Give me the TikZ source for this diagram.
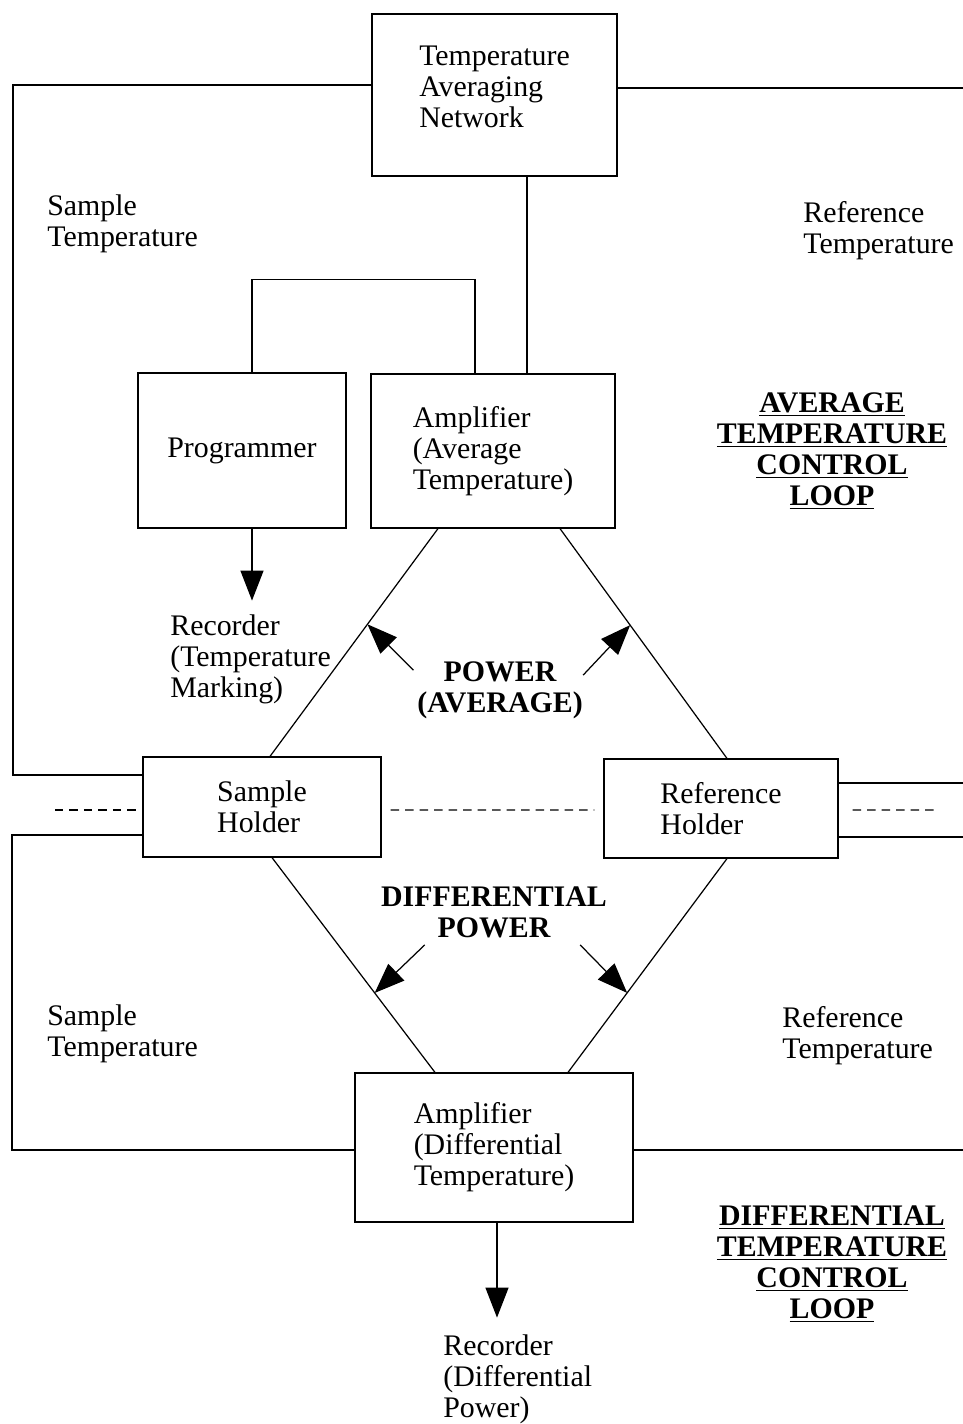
\documentclass[tikz,border=0pt]{standalone}
\usepackage{fontspec}
\setmainfont{Liberation Serif}
\usetikzlibrary{arrows.meta, calc}
\tikzset{
    my-box/.style={
        draw, line width=0.7pt, align=left, inner sep=0pt
    },
    my-wire/.style={
        line width=0.7pt
    },
    my-arrow/.style={
        line width=0.7pt, -{Triangle[length=0.6cm, width=0.46cm]}
    },
    my-dash/.style={
        line width=0.7pt, dash pattern=on 0.17cm off 0.12cm
    },
}

\begin{document}
\begin{tikzpicture}[x=0.02cm, y=-0.02cm, font=\fontsize{17}{17.6}\selectfont]

        \useasboundingbox (0,0) rectangle (963,1424);

        % BOXES
        \node[my-box, minimum width=4.9cm,  minimum height=3.24cm, text depth=9pt] (TAN) at (494.5,95) {Temperature\\Averaging\\Network};
        \node[my-box, minimum width=4.16cm, minimum height=3.1cm]  (PROG)    at (242,450.5)  {Programmer};
        \node[my-box, minimum width=4.88cm, minimum height=3.08cm] (AMPAVG)  at (493,451)    {Amplifier\\(Average\\Temperature)};
        \node[my-box, minimum width=4.76cm, minimum height=2cm]    (SH)      at (262,807)    {Sample\\Holder};
        \node[my-box, minimum width=4.68cm, minimum height=1.98cm] (RH)      at (721,808.5)  {Reference\\Holder};
        \node[my-box, minimum width=5.56cm, minimum height=2.98cm] (AMPDIFF) at (494,1147.5) {Amplifier\\(Differential\\Temperature)};

        % LABELS
        \node[align=left, anchor=west, inner sep=0pt] (STU)  at (47,223.5)  {Sample\\Temperature};
        \node[align=left, anchor=west, inner sep=0pt] (RTU)  at (803,230.5) {Reference\\Temperature};
        \node[align=left, anchor=west, inner sep=0pt] (STL)  at (47,1033.5) {Sample\\Temperature};
        \node[align=left, anchor=west, inner sep=0pt] (RTL)  at (782,1036)  {Reference\\Temperature};
        \node[align=left, anchor=west, inner sep=0pt] (RECT) at (170,659)   {Recorder\\(Temperature\\Marking)};
        \node[align=left, anchor=west, inner sep=0pt] (RECD) at (443,1379)  {Recorder\\(Differential\\Power)};
        \node[align=center, font=\fontsize{17}{17.6}\selectfont\bfseries] (PAVG)  at (500,690.5) {POWER\\(AVERAGE)};
        \node[align=center, font=\fontsize{17}{17.6}\selectfont\bfseries] (PDIFF) at (494,912)   {DIFFERENTIAL\\POWER};
        \node[align=center, font=\fontsize{17}{17.6}\selectfont\bfseries] (LOOPAVG)  at (832,451)
            {\underline{AVERAGE}\\\underline{TEMPERATURE}\\\underline{CONTROL}\\\underline{LOOP}};
        \node[align=center, font=\fontsize{17}{17.6}\selectfont\bfseries] (LOOPDIFF) at (832,1264)
            {\underline{DIFFERENTIAL}\\\underline{TEMPERATURE}\\\underline{CONTROL}\\\underline{LOOP}};

        % CONNECTOR POINTS
        \coordinate (TANOUT) at ($(TAN.south) + (32.5,0)$);
        \coordinate (AL1)    at ($(AMPAVG.south) + (-55,0)$);
        \coordinate (AL2)    at ($(SH.north) + (8,0)$);
        \coordinate (AR1)    at ($(AMPAVG.south) + (67,0)$);
        \coordinate (AR2)    at ($(RH.north) + (6,0)$);
        \coordinate (BL1)    at ($(SH.south) + (10,0)$);
        \coordinate (BL2)    at ($(AMPDIFF.north) + (-59,0)$);
        \coordinate (BR1)    at ($(RH.south) + (6,0)$);
        \coordinate (BR2)    at ($(AMPDIFF.north) + (74,0)$);
        \coordinate (RTOP)   at (963,88);
        \coordinate (RMID1)  at (963,783);
        \coordinate (RMID2)  at (963,837);
        \coordinate (RBOT)   at (963,1150);

        % SAMPLE / REFERENCE TEMPERATURE WIRES
        \draw[my-wire] (TAN.west |- 0,85) -- (13,85) -- (13,775) -- (SH.west |- 0,775);
        \draw[my-wire] (TAN.east |- RTOP) -- (RTOP);
        \draw[my-wire] (RH.east |- RMID1) -- (RMID1);
        \draw[my-wire] (RH.east |- RMID2) -- (RMID2);
        \draw[my-wire] (SH.west |- 0,835) -- (12,835) -- (12,1150) -- (AMPDIFF.west |- RBOT);
        \draw[my-wire] (AMPDIFF.east |- RBOT) -- (RBOT);

        % PROGRAMMER AND AVERAGING CONNECTIONS
        \draw[my-wire] ($(PROG.north) + (10,0)$) -- ++(0,-93) -| ($(AMPAVG.north) + (-18,0)$);
        \draw[my-wire] (TANOUT) -- (TANOUT |- AMPAVG.north);

        % POWER LINES
        \draw[my-wire] (AL1) -- (AL2);
        \draw[my-wire] (AR1) -- (AR2);
        \draw[my-wire] (BL1) -- (BL2);
        \draw[my-wire] (BR1) -- (BR2);

        % POWER ARROWS
        \draw[my-arrow] ($($(AL1)!0.42!(AL2)$) + (46,46)$)    -- ($(AL1)!0.42!(AL2)$);
        \draw[my-arrow] ($($(AR1)!0.42!(AR2)$) + (-47,50)$)   -- ($(AR1)!0.42!(AR2)$);
        \draw[my-arrow] ($($(BL1)!0.63!(BL2)$) + (50,-48)$)   -- ($(BL1)!0.63!(BL2)$);
        \draw[my-arrow] ($($(BR1)!0.628!(BR2)$) + (-47,-48)$) -- ($(BR1)!0.628!(BR2)$);

        % RECORDER OUTPUTS
        \draw[my-arrow] ($(PROG.south) + (10,0)$) -- ++(0,72);
        \draw[my-arrow] ($(AMPDIFF.south) + (3,0)$) -- ++(0,95);

        % HEAT LINKS
        \draw[my-dash] (55,810) -- ($(SH.west) + (-3,3)$);
        \draw[my-dash] ($(SH.east) + (9,3)$) -- ($(RH.west) + (-9,1.5)$);
        \draw[my-dash] ($(RH.east) + (14,1.5)$) -- (935,810);

    \end{tikzpicture}
\end{document}
